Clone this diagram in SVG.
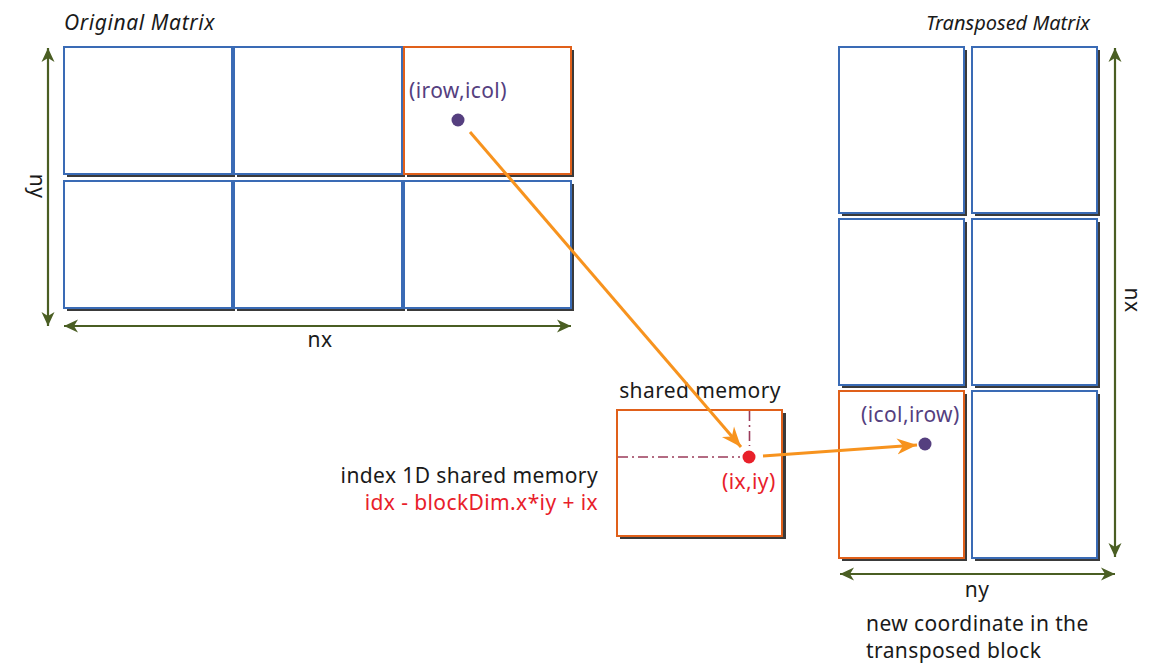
<svg xmlns="http://www.w3.org/2000/svg" width="1157" height="671" viewBox="0 0 1157 671">
<style>
text{font-family:"Noto Sans","Lato",sans-serif;font-size:21px;letter-spacing:0.4px;fill:#1a1a1a}
.it{font-style:italic;letter-spacing:0.6px}
.sh{fill:#3a3a3a;stroke:none}
.cell{fill:#fff;stroke:#3a6bb5;stroke-width:2}
.hot{fill:#fff;stroke:#e0601a;stroke-width:2}
.dim{stroke:#4a5e23;stroke-width:2.2;fill:none}
.ptr{stroke:#f7931e;stroke-width:3;fill:none}
.purple{fill:#553f7f}
.red{fill:#e8202a}
.dd{stroke:#9b3b5a;stroke-width:1.6;stroke-dasharray:10 4 2 4;fill:none}
</style>
<defs>
<marker id="ga" viewBox="-14 -7 15 14" markerWidth="15" markerHeight="14" refX="0" refY="0" orient="auto-start-reverse" markerUnits="userSpaceOnUse">
<path d="M0,0 L-14,-6.5 L-10,0 L-14,6.5 Z" fill="#4a5e23"/>
</marker>
<marker id="oa" viewBox="-20 -9 21 18" markerWidth="21" markerHeight="18" refX="0" refY="0" orient="auto" markerUnits="userSpaceOnUse">
<path d="M0,0 L-20,-8 L-14,0 L-20,8 Z" fill="#f7931e"/>
</marker>
</defs>

<text class="it" x="64" y="30">Original Matrix</text>
<text class="it" x="1090" y="30" text-anchor="end" style="font-size:20px;letter-spacing:0">Transposed Matrix</text>

<g id="orig-r1c1"><rect class="sh" x="67" y="50" width="168" height="127"/><rect class="cell" x="64" y="47" width="168" height="127"/></g>
<g id="orig-r1c2"><rect class="sh" x="237" y="50" width="168" height="127"/><rect class="cell" x="234" y="47" width="168" height="127"/></g>
<g id="orig-r1c3"><rect class="sh" x="407" y="50" width="167" height="127"/><rect class="hot" x="404" y="47" width="167" height="127"/>
<text x="409" y="98" style="fill:#553f7f">(irow,icol)</text><circle class="purple" cx="458" cy="120" r="6.5"/></g>
<g id="orig-r2c1"><rect class="sh" x="67" y="184" width="168" height="127"/><rect class="cell" x="64" y="181" width="168" height="127"/></g>
<g id="orig-r2c2"><rect class="sh" x="237" y="184" width="168" height="127"/><rect class="cell" x="234" y="181" width="168" height="127"/></g>
<g id="orig-r2c3"><rect class="sh" x="407" y="184" width="167" height="127"/><rect class="cell" x="404" y="181" width="167" height="127"/></g>

<g id="tr-r1c1"><rect class="sh" x="842" y="50" width="125" height="166"/><rect class="cell" x="839" y="47" width="125" height="166"/></g>
<g id="tr-r1c2"><rect class="sh" x="975" y="50" width="125" height="166"/><rect class="cell" x="972" y="47" width="125" height="166"/></g>
<g id="tr-r2c1"><rect class="sh" x="842" y="222" width="125" height="166"/><rect class="cell" x="839" y="219" width="125" height="166"/></g>
<g id="tr-r2c2"><rect class="sh" x="975" y="222" width="125" height="166"/><rect class="cell" x="972" y="219" width="125" height="166"/></g>
<g id="tr-r3c1"><rect class="sh" x="842" y="394" width="125" height="167"/><rect class="hot" x="839" y="391" width="125" height="167"/>
<text x="861" y="422" style="fill:#553f7f">(icol,irow)</text><circle class="purple" cx="925" cy="444" r="6.5"/></g>
<g id="tr-r3c2"><rect class="sh" x="975" y="394" width="125" height="167"/><rect class="cell" x="972" y="391" width="125" height="167"/></g>

<g id="shared">
<text x="700" y="398" text-anchor="middle">shared memory</text>
<rect class="sh" x="620" y="413" width="166" height="126"/>
<rect class="hot" x="617" y="410" width="165" height="126"/>
<path class="dd" d="M618,457 H740"/>
<path class="dd" d="M749.5,411 V446"/>
<circle class="red" cx="749" cy="457" r="6.5"/>
<text x="722" y="489" style="fill:#e8202a">(ix,iy)</text>
</g>

<g id="labels">
<text x="598" y="483" text-anchor="end">index 1D shared memory</text>
<text x="598" y="510" text-anchor="end" style="fill:#e8202a">idx - blockDim.x*iy + ix</text>
<text x="866" y="631">new coordinate in the</text>
<text x="866" y="658">transposed block</text>
<text x="320" y="347" text-anchor="middle">nx</text>
<text x="977" y="597" text-anchor="middle">ny</text>
<text transform="translate(30,186) rotate(90)" text-anchor="middle">ny</text>
<text transform="translate(1125,300) rotate(90)" text-anchor="middle">nx</text>
</g>

<g id="connectors">
<path class="dim" d="M48,326 V48" marker-start="url(#ga)" marker-end="url(#ga)"/>
<path class="dim" d="M64,326 H571" marker-start="url(#ga)" marker-end="url(#ga)"/>
<path class="dim" d="M1115,557 V48" marker-start="url(#ga)" marker-end="url(#ga)"/>
<path class="dim" d="M840,574 H1115" marker-start="url(#ga)" marker-end="url(#ga)"/>
<path class="ptr" d="M470,132 L741,447" marker-end="url(#oa)"/>
<path class="ptr" d="M763,456 L917,445" marker-end="url(#oa)"/>
</g>
</svg>
